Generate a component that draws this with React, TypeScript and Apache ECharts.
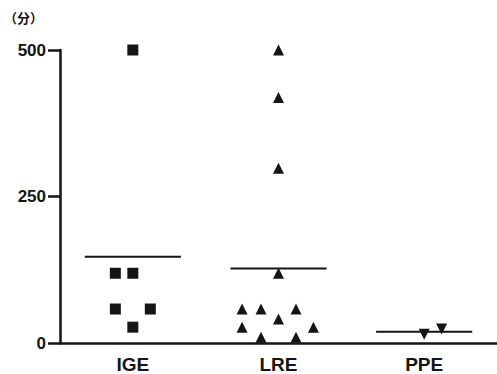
import React, { useEffect, useRef } from "react";
import * as echarts from "echarts";

const categories = ["IGE", "LRE", "PPE"];
const yTicks = [0, 250, 500];
// [x position (category index + jitter), value]
const igeValues: [number, number][] = [
  [0, 500],
  [-0.12, 119],
  [0, 119],
  [-0.12, 58],
  [0.12, 58],
  [0, 27],
];
const lreValues: [number, number][] = [
  [1, 500],
  [1, 419],
  [1, 298],
  [1, 119],
  [0.75, 58],
  [0.88, 58],
  [1.12, 58],
  [1, 41],
  [0.75, 27],
  [1.24, 27],
  [0.88, 10],
  [1.12, 10],
];
const ppeValues: [number, number][] = [
  [2, 15],
  [2.12, 24],
];
const means = [147, 127, 19];
const meanHalfWidth = 0.33;

export default function App() {
  const ref = useRef<HTMLDivElement>(null);
  useEffect(() => {
    document.body.style.margin = "0";
    const chart = echarts.init(ref.current!, undefined, { renderer: "svg" });
    const ink = "#151515";
    const meanSeries = means.map((m, i) => ({
      type: "line",
      xAxisIndex: 1,
      showSymbol: false,
      symbol: "none",
      lineStyle: { color: ink, width: 2 },
      data: [
        [i - meanHalfWidth, m],
        [i + meanHalfWidth, m],
      ],
      z: 2,
    }));
    chart.setOption({
      animation: false,
      backgroundColor: "#fff",
      grid: { left: 60, right: 0, top: 50, bottom: 30 },
      graphic: [
        {
          type: "text",
          left: 4,
          top: 11,
          style: {
            text: "（分）",
            fontSize: 13,
            fontWeight: "bold",
            fill: ink,
            fontFamily: "Noto Sans CJK SC",
          },
        },
      ],
      xAxis: [
        {
          type: "category",
          data: categories,
          axisLine: { lineStyle: { color: ink, width: 2.5 } },
          axisTick: { alignWithLabel: true, length: 10, lineStyle: { color: ink, width: 2.5 } },
          axisLabel: {
            color: ink,
            fontSize: 19,
            fontWeight: "bold",
            margin: 12,
            fontFamily: "Liberation Sans",
          },
          splitLine: { show: false },
        },
        {
          type: "value",
          min: -0.5,
          max: 2.5,
          show: false,
          splitLine: { show: false },
        },
      ],
      yAxis: {
        type: "value",
        min: yTicks[0],
        max: yTicks[yTicks.length - 1],
        interval: 250,
        axisLine: { show: true, onZero: false, lineStyle: { color: ink, width: 2.5 } },
        axisTick: { show: true, length: 12, lineStyle: { color: ink, width: 2.5 } },
        axisLabel: {
          color: ink,
          fontSize: 17,
          fontWeight: "bold",
          margin: 14,
          fontFamily: "Liberation Sans",
        },
        splitLine: { show: false },
      },
      series: [
        ...meanSeries,
        {
          type: "scatter",
          xAxisIndex: 1,
          symbol: "rect",
          symbolSize: 11,
          itemStyle: { color: ink, opacity: 1 },
          data: igeValues,
          z: 3,
        },
        {
          type: "scatter",
          xAxisIndex: 1,
          symbol: "triangle",
          symbolSize: 11,
          itemStyle: { color: ink, opacity: 1 },
          data: lreValues,
          z: 3,
        },
        {
          type: "scatter",
          xAxisIndex: 1,
          symbol: "triangle",
          symbolRotate: 180,
          symbolSize: 11,
          itemStyle: { color: ink, opacity: 1 },
          data: ppeValues,
          z: 3,
        },
      ],
    });
    return () => chart.dispose();
  }, []);
  return <div ref={ref} style={{ width: 497, height: 374 }} />;
}
